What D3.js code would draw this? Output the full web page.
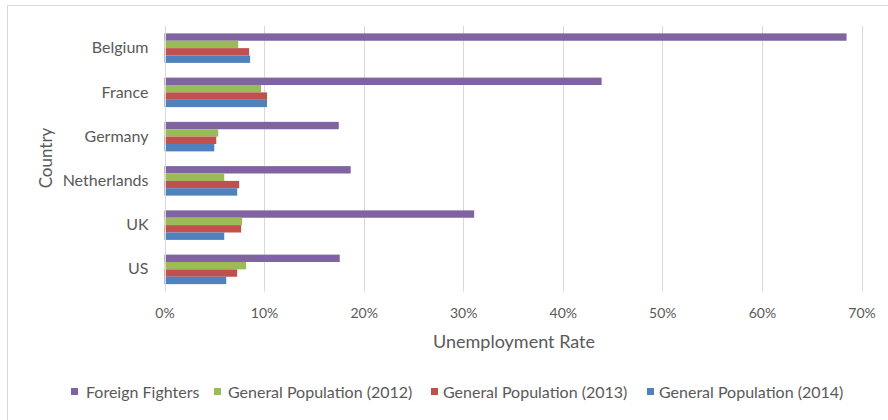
<!DOCTYPE html>
<html><head><meta charset="utf-8">
<script src="https://cdn.jsdelivr.net/npm/d3@7"></script>
<style>
body{margin:0;background:#fff;}
svg{display:block;font-family:Lato,"Open Sans",sans-serif;}
</style></head>
<body>
<svg id="chart" width="888" height="420"></svg>
<script>
const countries = ["Belgium","France","Germany","Netherlands","UK","US"];
const seriesNames = ["Foreign Fighters","General Population (2012)","General Population (2013)","General Population (2014)"];
const foreignFighters = [68.5, 43.9, 17.5, 18.7, 31.1, 17.6];
const genPop2012 = [7.4, 9.7, 5.4, 6.0, 7.8, 8.2];
const genPop2013 = [8.5, 10.3, 5.2, 7.5, 7.7, 7.3];
const genPop2014 = [8.6, 10.3, 5.0, 7.3, 6.0, 6.2];
const xTicks = [0,10,20,30,40,50,60,70];
const colors = ["#8064A2","#9BBB59","#C0504D","#4F81BD"];

const seriesValues = [foreignFighters, genPop2012, genPop2013, genPop2014];
const svg = d3.select("#chart");
const textColor = "#595959";

// chart border
svg.append("rect").attr("x",7.5).attr("y",5.5).attr("width",900).attr("height",430)
  .attr("fill","none").attr("stroke","#D9D9D9");

const pLeft = 164.5, pRight = 861.5, pTop = 26, pBottom = 291.5;
const x = d3.scaleLinear().domain([0,70]).range([pLeft,pRight]);
const y = d3.scaleBand().domain(countries).range([pTop,pBottom]).paddingInner(0.333).paddingOuter(0.1667);
const yInner = d3.scaleBand().domain(seriesNames).range([0,y.bandwidth()]);

// gridlines
svg.append("g").selectAll("line").data(xTicks).join("line")
  .attr("x1",d=>Math.round(x(d))+0.5).attr("x2",d=>Math.round(x(d))+0.5)
  .attr("y1",pTop).attr("y2",pBottom)
  .attr("stroke","#D9D9D9").attr("stroke-width",1);

// bars
const rows = [];
countries.forEach((c,i)=>seriesNames.forEach((s,j)=>rows.push({c,s,j,v:seriesValues[j][i]})));
svg.append("g").selectAll("rect").data(rows).join("rect")
  .attr("x",x(0)).attr("y",d=>y(d.c)+yInner(d.s))
  .attr("width",d=>x(d.v)-x(0)).attr("height",yInner.bandwidth())
  .attr("fill",d=>colors[d.j]);

// y axis line
svg.append("line").attr("x1",Math.round(x(0))+0.5).attr("x2",Math.round(x(0))+0.5)
  .attr("y1",pTop).attr("y2",pBottom).attr("stroke","#D9D9D9");

// x axis
const xAxis = d3.axisBottom(x).tickValues(xTicks).tickFormat(d=>d+"%").tickSize(0).tickPadding(17);
const gx = svg.append("g").attr("transform",`translate(0,${pBottom})`).call(xAxis);
gx.select(".domain").remove();
gx.selectAll("text").attr("fill",textColor).style("font-size","14px").style("font-family","Lato");

// y axis
const yAxis = d3.axisLeft(y).tickSize(0).tickPadding(16);
const gy = svg.append("g").attr("transform",`translate(${pLeft},0)`).call(yAxis);
gy.select(".domain").remove();
gy.selectAll("text").attr("fill",textColor).style("font-size","16px").style("font-family","Lato");

// axis titles
svg.append("text").attr("x",514).attr("y",348).attr("text-anchor","middle")
  .attr("fill",textColor).style("font-size","18px").text("Unemployment Rate");
svg.append("text").attr("transform","translate(52,158) rotate(-90)").attr("text-anchor","middle")
  .attr("fill",textColor).style("font-size","17px").text("Country");

// legend
const legendMarkX = [71, 214, 431, 647];
const legendTextX = [86, 228, 443, 659];
const lg = svg.append("g").selectAll("g").data(seriesNames).join("g");
lg.append("rect").attr("x",(d,i)=>legendMarkX[i]).attr("y",388).attr("width",7).attr("height",7).attr("fill",(d,i)=>colors[i]);
lg.append("text").attr("x",(d,i)=>legendTextX[i]).attr("y",392).attr("dy","0.35em").attr("fill",textColor)
  .style("font-size","16px").text(d=>d);
</script>
</body></html>
